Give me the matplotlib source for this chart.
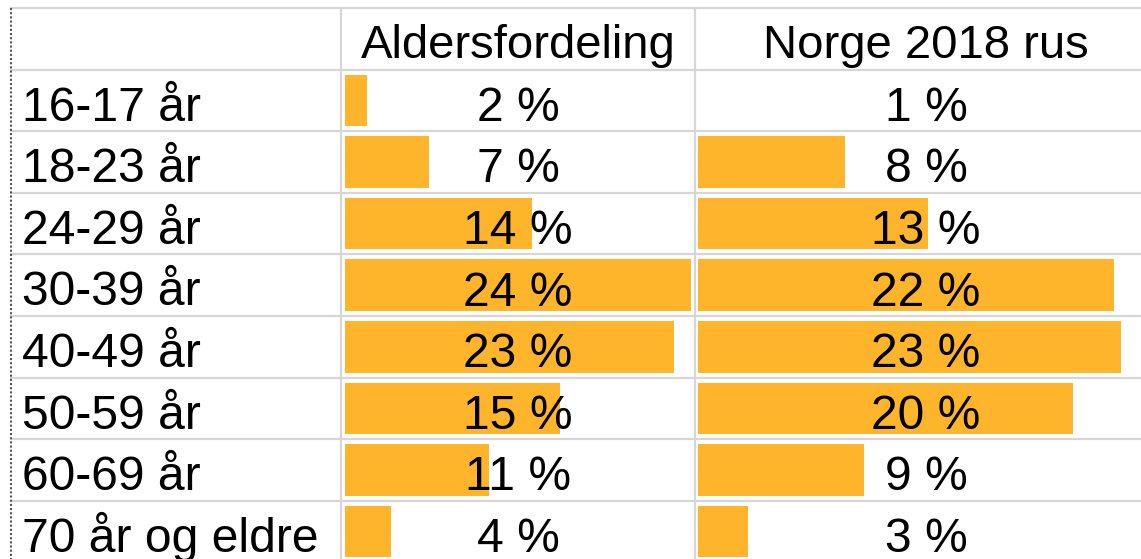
import matplotlib.pyplot as plt
from matplotlib.transforms import blended_transform_factory

plt.rcParams['font.family'] = ['Liberation Sans', 'DejaVu Sans']

# data
ages = ['16-17 år', '18-23 år', '24-29 år', '30-39 år',
        '40-49 år', '50-59 år', '60-69 år', '70 år og eldre']
headers = ['Aldersfordeling', 'Norge 2018 rus']
# shown percentages
pct_alder = [2, 7, 14, 24, 23, 15, 11, 4]
pct_norge = [1, 8, 13, 22, 23, 20, 9, 3]
# data bar lengths (in % units)
bar_alder = [1.5, 5.8, 13.0, 24.0, 22.8, 14.9, 10.0, 3.2]
bar_norge = [0.0, 8.0, 12.5, 22.6, 23.0, 20.4, 9.0, 2.7]

# layout in pixels
W, H = 1141, 559
top = 8
row_h = 61.6
col_x = [11, 341, 695, 1157]
bar_off = [4, 3]             # gap between cell edge and bar start
px_per_pct = [14.42, 18.4]
grid_c = '#d6d6d6'
bar_c = '#FEB52B'
fs = 34.6
fs_head = 34

fig = plt.figure(figsize=(W / 100, H / 100), dpi=100)
bg = fig.add_axes([0, 0, 1, 1])
bg.set_xlim(0, W)
bg.set_ylim(H, 0)
bg.axis('off')

# grid
n_rows = len(ages) + 1
for k in range(n_rows + 1):
    bg.plot([col_x[0], col_x[-1]], [top + k * row_h] * 2, color=grid_c, lw=1.6, zorder=1)
for x in col_x[1:]:
    bg.plot([x, x], [top, top + n_rows * row_h], color=grid_c, lw=1.6, zorder=1)
bg.plot([col_x[0], col_x[0]], [top, H], color='#555555', lw=1.5, ls=(0, (1, 1)), zorder=2)

# header + row labels
for j, h in enumerate(headers):
    bg.text((col_x[j + 1] + col_x[j + 2]) / 2, top + 50, h, ha='center', va='baseline', fontsize=fs_head)
for i, a in enumerate(ages):
    bg.text(col_x[0] + 11, top + (i + 1) * row_h + 51, a, ha='left', va='baseline', fontsize=fs)

# data bar columns
for j, (bars, pcts) in enumerate([(bar_alder, pct_alder), (bar_norge, pct_norge)]):
    x0, x1 = col_x[j + 1], col_x[j + 2]
    y0 = top + row_h
    y1 = y0 + len(ages) * row_h
    ax = fig.add_axes([x0 / W, 1 - y1 / H, (x1 - x0) / W, (y1 - y0) / H])
    k = px_per_pct[j]
    ax.set_xlim(-bar_off[j] / k, (x1 - x0 - bar_off[j]) / k)
    ax.set_ylim(len(ages) - 0.5, -0.5)
    ax.axis('off')
    ax.barh(range(len(bars)), bars, height=0.84, left=0, color=bar_c, zorder=2)
    tr = blended_transform_factory(ax.transAxes, ax.transData)
    for i, p in enumerate(pcts):
        ax.text(0.5, i + 0.33, f'{p} %', transform=tr, ha='center', va='baseline',
                fontsize=fs, zorder=3)

fig.savefig('out.png', dpi=100)
